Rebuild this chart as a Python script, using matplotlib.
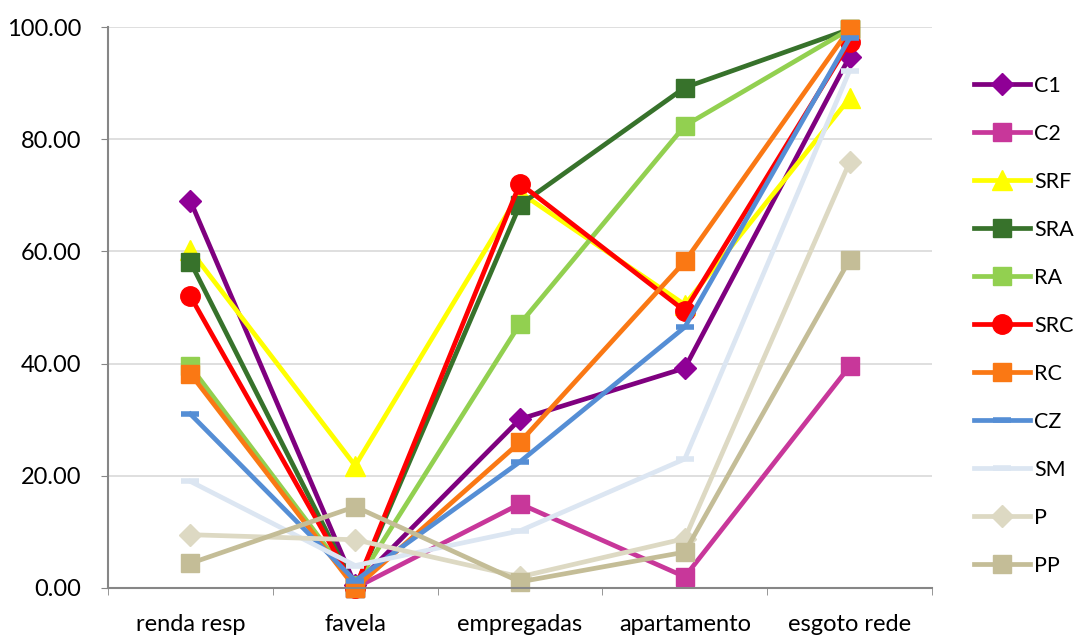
import matplotlib
matplotlib.use("Agg")
import matplotlib.pyplot as plt
import numpy as np

plt.rcParams["font.family"] = ["Lato", "DejaVu Sans"]

categories = ["renda resp", "favela", "empregadas", "apartamento", "esgoto rede"]

C1 = [69.0, 0.5, 30.1, 39.2, 94.7]
C2 = [np.nan, 0.0, 15.0, 2.0, 39.5]
SRF = [60.2, 21.8, 70.5, 50.5, 87.3]
SRA = [58.1, 0.0, 68.3, 89.2, 99.6]
RA = [39.5, 0.5, 47.1, 82.4, 99.6]
SRC = [52.0, 0.0, 72.1, 49.4, 97.3]
RC = [38.2, 0.0, 26.0, 58.2, 99.7]
CZ = [31.0, 1.3, 22.5, 46.5, 98.0]
SM = [19.0, 4.0, 10.2, 23.0, 92.2]
P = [9.5, 8.6, 2.0, 8.8, 75.9]
PP = [4.4, 14.5, 1.1, 6.4, 58.5]

names = ["C1", "C2", "SRF", "SRA", "RA", "SRC", "RC", "CZ", "SM", "P", "PP"]
series = [C1, C2, SRF, SRA, RA, SRC, RC, CZ, SM, P, PP]

# line colour, marker colour, marker, marker size
styles = {
    "C1": ("#7f007f", "#8f0096", "D", 11),
    "C2": ("#c8379a", "#c8379a", "s", 13),
    "SRF": ("#ffff00", "#ffff00", "^", 14),
    "SRA": ("#37722b", "#37722b", "s", 13),
    "RA": ("#92d050", "#92d050", "s", 13),
    "SRC": ("#ff0000", "#ff0000", "o", 14),
    "RC": ("#fa7814", "#fa7814", "s", 13),
    "CZ": ("#558ed5", "#558ed5", "_", 13),
    "SM": ("#dce6f2", "#dce6f2", "_", 13),
    "P": ("#ddd9c3", "#ddd9c3", "D", 11),
    "PP": ("#c4bd97", "#c4bd97", "s", 13),
}

fig = plt.figure(figsize=(10.75, 6.37), dpi=100)
ax = fig.add_axes([108 / 1075, 49 / 637, 824 / 1075, 561 / 637])

x = np.arange(len(categories))
for name, vals in zip(names, series):
    lc, mc, mk, ms = styles[name]
    ax.plot(x, vals, color=lc, lw=3.4, marker=mk, markersize=ms,
            markerfacecolor=mc, markeredgecolor=mc,
            markeredgewidth=4 if mk == "_" else 1,
            label=name, clip_on=False)

ax.set_xlim(-0.5, len(categories) - 0.5)
ax.set_ylim(0, 100)
ax.set_yticks(np.arange(0, 101, 20))
ax.set_yticklabels(["%.2f" % v for v in np.arange(0, 101, 20)], fontsize=17)
ax.set_xticks(x)
ax.set_xticklabels(categories, fontsize=17)
ax.set_xticks(np.arange(-0.5, len(categories), 1), minor=True)
ax.tick_params(axis="x", which="major", length=0, pad=19)
ax.tick_params(axis="x", which="minor", length=5, color="#868686")
ax.tick_params(axis="y", length=5, color="#868686", pad=14)

ax.grid(axis="y", color="#d9d9d9", lw=1.2)
ax.set_axisbelow(True)
for s in ["top", "right"]:
    ax.spines[s].set_visible(False)
for s in ["left", "bottom"]:
    ax.spines[s].set_color("#868686")
    ax.spines[s].set_linewidth(1.5)

ax.legend(loc="upper left", bbox_to_anchor=(1.04, 0.928), frameon=False,
          fontsize=15.5, handlelength=2.6, labelspacing=1.3, handletextpad=0.2,
          borderaxespad=0)

fig.savefig("out.png", dpi=100)
